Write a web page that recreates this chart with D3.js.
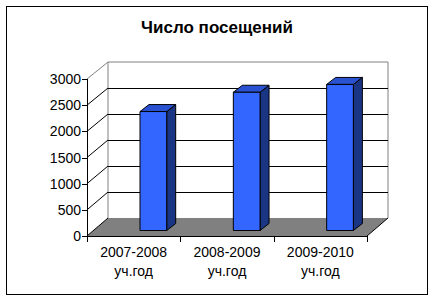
<!DOCTYPE html>
<html>
<head>
<meta charset="utf-8">
<script src="https://cdn.jsdelivr.net/npm/d3@7"></script>
<style>
	body { margin: 0; background: #fff; }
	text { font-family: Arial, "Liberation Sans", sans-serif; fill: #000; }
</style>
</head>
<body>
<svg id="chart" width="435" height="302"></svg>
<script>
const title = "Число посещений";
const categories = ["2007-2008", "2008-2009", "2009-2010"];
const categorySuffix = ["уч.год", "уч.год", "уч.год"];
const visits = [2280, 2650, 2800];
const yTicks = [0, 500, 1000, 1500, 2000, 2500, 3000];

const svg = d3.select("#chart");

// frame
svg.append("rect")
	.attr("x", 6.5).attr("y", 6.5)
	.attr("width", 421).attr("height", 288)
	.attr("fill", "#fff")
	.attr("stroke", "#000");

svg.append("text")
	.attr("x", 217)
	.attr("y", 33)
	.attr("text-anchor", "middle")
	.attr("font-size", 17)
	.attr("font-weight", "bold")
	.text(title);

// 3d geometry: front plane, back wall shifted by (depthX, depthY)
const depthX = 21, depthY = -18;
const x = d3.scaleBand().domain(categories).range([87, 367]);
const yFront = d3.scaleLinear().domain([0, 3000]).range([236, 79]);
const yBack = d3.scaleLinear().domain([0, 3000]).range([236 + depthY, 79 + depthY + 1]);
// plane on which the bars stand
const yBar = d3.scaleLinear().domain([0, 3000]).range([230.5, 230.5 - 156.5]);

const xl = x.range()[0], xr = x.range()[1];

// floor
svg.append("path")
	.attr("d", d3.line()([[xl, yFront(0)], [xr, yFront(0)], [xr + depthX, yBack(0)], [xl + depthX, yBack(0)]]))
	.attr("fill", "#808080")
	.attr("stroke", "none");

// back wall border
svg.append("path")
	.attr("d", d3.line()([[xl + depthX, yBack(0)], [xl + depthX, yBack(3000)], [xr + depthX, yBack(3000)], [xr + depthX, yBack(0)]]))
	.attr("fill", "none")
	.attr("stroke", "#808080");

// gridlines on back wall and left wall
const grid = svg.append("g").attr("stroke-width", 1).attr("fill", "none");
yTicks.forEach(t => {
	const c = t === 3000 ? "#808080" : "#000";
	if (t > 0 && t < 3000) {
		grid.append("line")
			.attr("x1", xl + depthX).attr("x2", xr + depthX)
			.attr("y1", Math.round(yBack(t)) + 0.5).attr("y2", Math.round(yBack(t)) + 0.5)
			.attr("stroke", c);
	}
	grid.append("line")
		.attr("x1", xl).attr("y1", yFront(t))
		.attr("x2", xl + depthX).attr("y2", yBack(t))
		.attr("stroke", c);
});

// floor right edge
svg.append("line")
	.attr("x1", xr).attr("y1", yFront(0))
	.attr("x2", xr + depthX).attr("y2", yBack(0))
	.attr("stroke", "#000");

// bars
const barOffset = 53, barWidth = 26.7, barDX = 9, barDY = -7;
const bars = svg.append("g").attr("stroke", "#000").attr("stroke-width", 1).attr("stroke-linejoin", "round");
categories.forEach((c, i) => {
	const x0 = x(c) + barOffset, x1 = x0 + barWidth;
	const yT = yBar(visits[i]), yB = yBar(0);
	bars.append("path")
		.attr("d", d3.line()([[x1, yT], [x1 + barDX, yT + barDY], [x1 + barDX, yB + barDY], [x1, yB]]) + "Z")
		.attr("fill", "#1a3584");
	bars.append("path")
		.attr("d", d3.line()([[x0, yT], [x1, yT], [x1 + barDX, yT + barDY], [x0 + barDX, yT + barDY]]) + "Z")
		.attr("fill", "#2a52d0");
	bars.append("rect")
		.attr("x", x0).attr("y", yT)
		.attr("width", barWidth).attr("height", yB - yT)
		.attr("fill", "#3366ff");
});

// value axis
const yAxis = svg.append("g");
yAxis.append("line")
	.attr("x1", xl + 0.5).attr("x2", xl + 0.5)
	.attr("y1", yFront(3000)).attr("y2", yFront(0))
	.attr("stroke", "#000");
yTicks.forEach(t => {
	yAxis.append("line")
		.attr("x1", xl - 5).attr("x2", xl)
		.attr("y1", Math.round(yFront(t)) + 0.5).attr("y2", Math.round(yFront(t)) + 0.5)
		.attr("stroke", "#000");
	yAxis.append("text")
		.attr("x", 81)
		.attr("y", yFront(t))
		.attr("dy", "0.36em")
		.attr("text-anchor", "end")
		.attr("font-size", 14)
		.text(t);
});

// category axis
const xAxis = svg.append("g");
xAxis.append("line")
	.attr("x1", xl).attr("x2", xr)
	.attr("y1", yFront(0) + 0.5).attr("y2", yFront(0) + 0.5)
	.attr("stroke", "#000");
[xl].concat(categories.map(c => x(c) + x.bandwidth())).forEach(px => {
	xAxis.append("line")
		.attr("x1", Math.round(px) + 0.5).attr("x2", Math.round(px) + 0.5)
		.attr("y1", yFront(0)).attr("y2", yFront(0) + 6)
		.attr("stroke", "#000");
});
categories.forEach((c, i) => {
	const t = xAxis.append("text")
		.attr("x", x(c) + x.bandwidth() / 2)
		.attr("y", 256.5)
		.attr("text-anchor", "middle")
		.attr("font-size", 14);
	t.append("tspan").attr("x", x(c) + x.bandwidth() / 2).text(c);
	t.append("tspan").attr("x", x(c) + x.bandwidth() / 2).attr("dy", 19.5).text(categorySuffix[i]);
});
</script>
</body>
</html>
